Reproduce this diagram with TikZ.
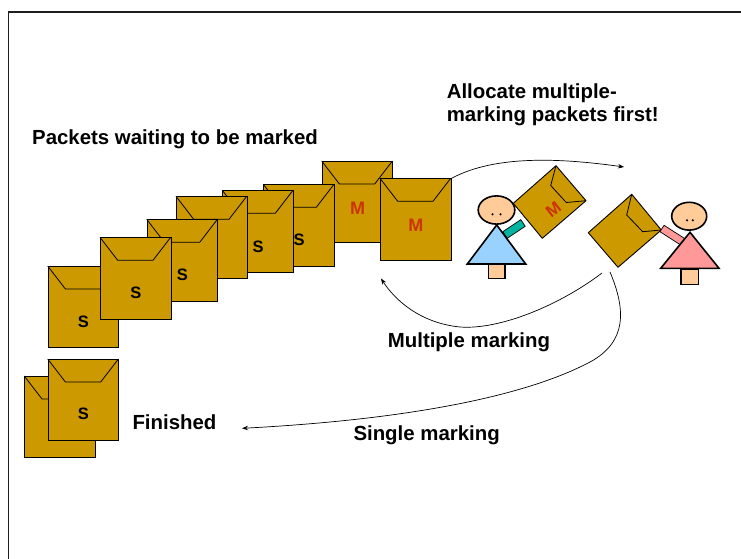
\documentclass[tikz,border=0pt]{standalone}
\usepackage{fontspec}
\setmainfont{Liberation Sans}
\usetikzlibrary{arrows.meta,calc}

\definecolor{envcol}{RGB}{204,153,0}
\definecolor{mred}{RGB}{204,51,0}
\definecolor{skin}{RGB}{255,204,153}
\definecolor{boyblue}{RGB}{153,210,255}
\definecolor{girlpink}{RGB}{255,153,153}
\definecolor{armteal}{RGB}{0,180,160}
\definecolor{framegray}{RGB}{30,30,30}

\tikzset{
  envbox/.style={draw=black, fill=envcol, line width=0.9pt, inner sep=0pt,
    minimum width=70.7pt, minimum height=81.3pt, anchor=north west},
  envpoly/.style={draw=black, fill=envcol, line width=0.9pt, line join=round},
  flapline/.style={draw=black, line width=0.8pt},
  slabel/.style={font=\bfseries\fontsize{16.5}{18}\selectfont, text=black, inner sep=0pt},
  mlabel/.style={font=\bfseries\fontsize{18}{20}\selectfont, text=mred, inner sep=0pt},
  caption/.style={font=\bfseries\fontsize{20.4}{23}\selectfont, inner sep=0pt, align=left},
  flow/.style={draw=black, line width=0.7pt, -{Stealth[length=6pt,width=4.5pt]}},
  body/.style={draw=black, line width=1.6pt, line join=miter},
  part/.style={draw=black, line width=1.2pt},
}

% upright envelope: name, x, y (top-left), label, label style, label offset
\newcommand{\upenv}[6]{%
  \node[envbox] (#1) at (#2,#3) {};
  \draw[flapline] (#1.north west) -- ++(17.7,23) -- ++(35.3,0) -- ++(17.7,-23);
  \node[#5] (#1lbl) at ([yshift=-#6pt]#1.north) {#4};
}
% envelope without label
\newcommand{\blankenv}[3]{%
  \node[envbox] (#1) at (#2,#3) {};
  \draw[flapline] (#1.north west) -- ++(17.7,23) -- ++(35.3,0) -- ++(17.7,-23);
}
% an arm as an outlined bar between two points
\newcommand{\arm}[4]{%
  \filldraw[fill=#1, draw=black, line width=0.7pt]
    ($(#2)!#4!90:(#3)$) -- ($(#3)!#4!-90:(#2)$) -- ($(#3)!#4!90:(#2)$) -- ($(#2)!#4!-90:(#3)$) -- cycle;
}

\begin{document}
\begin{tikzpicture}[x=1pt, y=-1pt]
\useasboundingbox (0,0) rectangle (741,559);
\fill[white] (0,0) rectangle (741,559);

% frame
\draw[framegray, line width=1.6pt] (8.3,560) -- (8.3,12) -- (742,12);

% queue of packets waiting to be marked
\upenv{envG}{321.7}{161}{M}{mlabel}{47.3}
\upenv{envH}{380}{178.3}{M}{mlabel}{46.7}
\upenv{envF}{263.3}{184.3}{S}{slabel}{55.7}
\upenv{envE}{222.3}{190.3}{S}{slabel}{56.4}
\upenv{envD}{176}{196.3}{S}{slabel}{56}
\upenv{envC}{146.7}{219.3}{S}{slabel}{56}
\upenv{envA}{47.7}{266}{S}{slabel}{55.7}
\upenv{envB}{100}{237.3}{S}{slabel}{55.4}

% finished packets
\blankenv{finback}{24.3}{376}
\upenv{finfront}{47.7}{359}{S}{slabel}{55.3}

% captions
\node[caption, anchor=base west] (waiting) at (32,144) {Packets waiting to be marked};
\node[caption, anchor=base west] (alloc1) at (446.6,99) {Allocate multiple-};
\node[caption, anchor=base west] (alloc2) at (446.6,121.5) {marking packets first!};
\node[caption, anchor=base west] (multi) at (387.7,347.3) {Multiple marking};
\node[caption, anchor=base west] (single) at (353.3,440) {Single marking};
\node[caption, anchor=base west] (fin) at (132.3,429) {Finished};

% marker on the left (blue)
\coordinate (bshoulder) at (505,235);
\coordinate (bhand) at (523,223);
\arm{armteal}{bshoulder}{bhand}{4pt}
\draw[part, fill=skin] (488.3,264) rectangle (505,278.3);
\draw[body, fill=boyblue] (496.7,225) -- (525.7,264) -- (467.3,264) -- cycle;
\draw[body, fill=skin] (496.5,210) ellipse [x radius=18.3, y radius=14.1];
\fill (492.5,214.3) circle (1.2) (500.5,214.3) circle (1.2);

% envelope held by the blue marker
\draw[envpoly] (556,165.7) coordinate (iT) -- (586,200.7) coordinate (iR)
  -- (542.3,238.3) coordinate (iB) -- (513.3,203.3) coordinate (iL) -- cycle;
\draw[flapline] (iT) -- (550.7,185.5) -- (566.3,202.5) -- (iR);
\node[mlabel, font=\bfseries\fontsize{17}{19}\selectfont, rotate=38] (envIlbl) at (553.3,210) {M};

% envelope held by the pink marker
\draw[envpoly] (631.7,194.3) coordinate (jT) -- (661.3,230) coordinate (jR)
  -- (618,267.3) coordinate (jB) -- (588.3,232.7) coordinate (jL) -- cycle;
\draw[flapline] (jT) -- (626.7,215) -- (642.7,231.7) -- (jR);

% marker on the right (pink)
\coordinate (gshoulder) at (683,242);
\coordinate (ghand) at (662,228.5);
\arm{girlpink}{gshoulder}{ghand}{3.8pt}
\draw[part, fill=skin] (681,269) rectangle (698.5,284.3);
\draw[body, fill=girlpink] (690,232.3) -- (719,268.3) -- (660.7,268.3) -- cycle;
\draw[body, fill=skin] (689.2,216.2) ellipse [x radius=17.5, y radius=13.9];
\fill (687,220.3) circle (1.2) (692.8,220.3) circle (1.2);

% flows
\coordinate (toptarget) at (624,167);
\coordinate (multistart) at (602,273);
\coordinate (multitarget) at (381,278.5);
\coordinate (singlestart) at (610,272);
\coordinate (singletarget) at (242,428.3);

\draw[flow] (envH.north east) .. controls (495,155) and (560,158) .. (toptarget);
\draw[flow] (multistart) .. controls (560,305) and (500,330) .. (460,327)
  .. controls (420,323) and (395,300) .. (multitarget);
\draw[flow] (singlestart) .. controls (626,310) and (627,342) .. (590,362)
  .. controls (522,398) and (400,420) .. (singletarget);
\end{tikzpicture}
\end{document}
